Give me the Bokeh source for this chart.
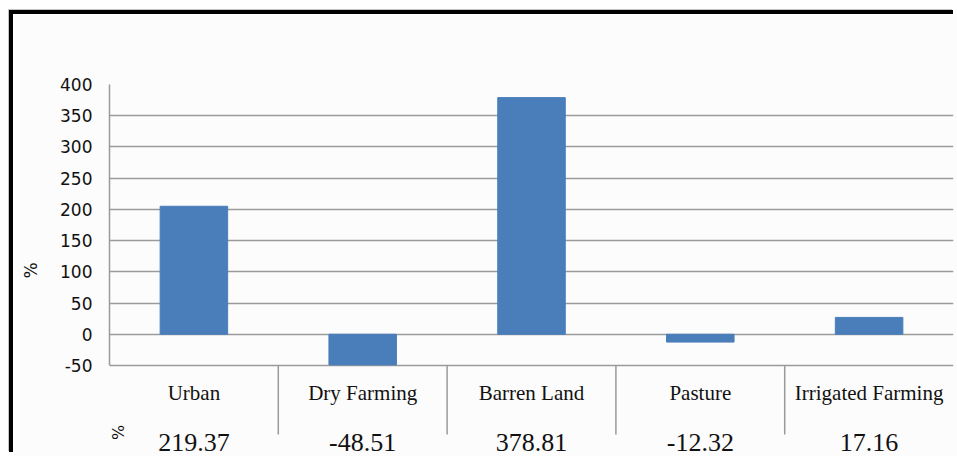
import numpy as np
from bokeh.plotting import figure
from bokeh.models import Range1d, FixedTicker
from bokeh.core.properties import value
from bokeh.embed import file_html
from bokeh.resources import INLINE

# ---- data ----
categories = ["Urban", "Dry Farming", "Barren Land", "Pasture", "Irrigated Farming"]
bar_values = [205, -49, 379, -12.5, 27]
table_values = ["219.37", "-48.51", "378.81", "-12.32", "17.16"]
y_ticks = [-50, 0, 50, 100, 150, 200, 250, 300, 350, 400]
y_tick_labels = ["-50", "0", "50", "100", "150", "200", "250", "300", "350", "400"]
y_label = "%"
table_row_label = "%"

# ---- layout ----
W, H = 957, 456
OFF_X, OFF_Y = 13, 14               # outer frame (margin + border drawn by shadow)
FW, FH = W - OFF_X, H - OFF_Y
LEFT, TOP, RIGHT = 109 - OFF_X, 84 - OFF_Y, 4
Y_MIN, Y_MAX = -50, 400
axis_px = 281.0                      # pixels from 400 down to -50
px_per_unit = axis_px / (Y_MAX - Y_MIN)
frame_h = FH - TOP
y_start = Y_MAX - frame_h / px_per_unit

n = len(categories)
x_centers = np.arange(n) + 0.5
x_bounds = np.arange(1, n)
table_depth = 69 / px_per_unit

p = figure(width=FW, height=FH, output_backend="svg", toolbar_location=None,
           x_axis_location=None, title=None,
           x_range=Range1d(0, n), y_range=Range1d(y_start, Y_MAX),
           min_border_left=LEFT, min_border_top=TOP, min_border_right=RIGHT,
           min_border_bottom=0)
p.styles = {"margin-left": f"{OFF_X}px", "margin-top": f"{OFF_Y}px",
            "box-shadow": "-4px -4px 0px 0px #000000, -5px -5px 0px 0px #c4c4c4"}
p.background_fill_color = "#fcfcfc"
p.border_fill_color = "#fcfcfc"
p.outline_line_color = None

grid_color = "#9a9a9a"
ticker = FixedTicker(ticks=y_ticks)

p.yaxis.ticker = ticker
p.yaxis.major_label_overrides = dict(zip(y_ticks, y_tick_labels))
p.yaxis.bounds = (Y_MIN, Y_MAX)
p.yaxis.axis_line_color = grid_color
p.yaxis.axis_line_width = 1.5
p.yaxis.major_tick_out = 0
p.yaxis.major_tick_in = 0
p.yaxis.minor_tick_out = 0
p.yaxis.minor_tick_in = 0
p.yaxis.major_label_standoff = 17
p.yaxis.major_label_text_font = "DejaVu Sans"
p.yaxis.major_label_text_font_size = "17px"
p.yaxis.major_label_text_color = "#111111"
p.yaxis.axis_label = y_label
p.yaxis.axis_label_standoff = 16
p.yaxis.axis_label_text_font = "DejaVu Sans"
p.yaxis.axis_label_text_font_size = "17px"
p.yaxis.axis_label_text_font_style = "normal"
p.yaxis.axis_label_text_color = "#111111"

p.xgrid.grid_line_color = None
p.ygrid.ticker = ticker
p.ygrid.bounds = (Y_MIN, Y_MAX)
p.ygrid.grid_line_color = grid_color
p.ygrid.grid_line_width = 1.5

# bars
p.vbar(x=x_centers, top=bar_values, bottom=0, width=0.4,
       fill_color="#4a7ebb", line_color="#4a7ebb")

# data table below the chart
p.segment(x0=x_bounds, y0=[Y_MIN] * len(x_bounds), x1=x_bounds,
          y1=[Y_MIN - table_depth] * len(x_bounds),
          line_color=grid_color, line_width=1.5)
p.text(x=x_centers, y=[Y_MIN] * n, text=categories, y_offset=27,
       text_align="center", text_baseline="alphabetic",
       text_font=value("Liberation Serif"), text_font_size="21px",
       text_color="#111111")
p.text(x=x_centers, y=[Y_MIN] * n, text=table_values, y_offset=77,
       text_align="center", text_baseline="alphabetic",
       text_font=value("Liberation Serif"), text_font_size="26px",
       text_color="#111111")
p.text(x=[0], y=[Y_MIN], text=[table_row_label], x_offset=9, y_offset=67,
       angle=np.pi / 2, text_align="center", text_baseline="middle",
       text_font=value("DejaVu Sans"), text_font_size="16px",
       text_color="#111111")

open("out.html", "w").write(file_html(p, INLINE))
